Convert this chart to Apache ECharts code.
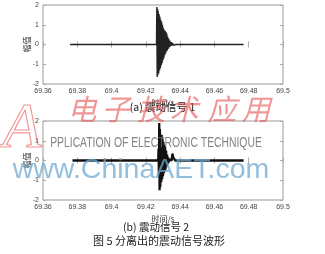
<!DOCTYPE html>
<html><head><meta charset="utf-8">
<script src="https://cdn.jsdelivr.net/npm/echarts@6/dist/echarts.min.js"></script>
<style>html,body{margin:0;padding:0;background:#fff}#c{width:325px;height:254px}</style>
</head><body><div id="c"></div>
<script>
// ---- data ----
const xTickLabels = ['69.36','69.38','69.4','69.42','69.44','69.46','69.48','69.5'];
const yTickLabels = ['-2','-1','0','1','2'];
const timeA = [69.3758,69.4262,69.4264,69.4266,69.4268,69.4270,69.4272,69.4275,69.4277,69.4280,69.4282,69.4285,69.4287,69.4290,69.4292,69.4295,69.4297,69.4300,69.4302,69.4305,69.4307,69.4310,69.4312,69.4315,69.4317,69.4320,69.4322,69.4325,69.4327,69.4330,69.4333,69.4336,69.4340,69.4344,69.4348,69.4352,69.4356,69.4362,69.4368,69.4375,69.4770];
const ampA  = [0,0,1.90,-1.65,1.80,-1.55,1.70,-1.45,1.55,-1.30,1.40,-1.20,1.25,-1.05,1.15,-0.95,1.00,-0.80,0.85,-0.70,0.75,-0.55,0.70,-0.45,0.65,-0.35,0.55,-0.30,0.40,-0.22,0.30,-0.15,0.20,-0.10,0.12,-0.06,0.08,-0.04,0.05,0,0];
const timeB = [69.3772,69.4272,69.4274,69.4276,69.4278,69.4280,69.4282,69.4284,69.4287,69.4290,69.4292,69.4295,69.4297,69.4300,69.4302,69.4305,69.4307,69.4310,69.4312,69.4315,69.4318,69.4321,69.4324,69.4327,69.4330,69.4334,69.4338,69.4342,69.4350,69.4355,69.4360,69.4365,69.4372,69.4770];
const ampB  = [0,0,0.60,-0.80,1.90,-1.50,1.60,-1.35,1.20,-1.10,1.30,-0.95,1.10,-0.80,0.95,-0.65,0.80,-0.55,0.70,-0.45,0.50,-0.30,0.30,-0.18,0.15,-0.08,0.05,0,0,0.35,0.15,0.05,0,0];
const captionA = '(a) 震动信号 1';
const captionB = '(b) 震动信号 2';
const figCaption = '图 5 分离出的震动信号波形';
const xName = '时间/s';
const yName = '幅值';

// ---- chart ----
const xMin = 69.36, xMax = 69.5, xStep = 0.02;
const tickFmt = v => xTickLabels[Math.round((v - xMin) / xStep)] || '';
const lblStyle = {fontSize: 7, color: '#444', fontFamily: 'Liberation Sans'};
function xAx(g, pos, showLbl) {
  return {type:'value', gridIndex:g, position:pos, min:xMin, max:xMax, interval:xStep,
    axisLine:{show:false}, splitLine:{show:false},
    axisTick:{show:true, inside:true, length:3, lineStyle:{color:'#aaa'}},
    axisLabel: showLbl ? Object.assign({show:true, margin:4, formatter:tickFmt}, lblStyle) : {show:false},
    name: showLbl ? xName : '', nameLocation:'middle', nameGap:15, nameMoveOverlap:false,
    nameTextStyle:{fontSize:8, color:'#333', fontFamily:'Noto Sans CJK SC'}};
}
function yAx(g, pos, showLbl) {
  return {type:'value', gridIndex:g, position:pos, min:-2, max:2, interval:1,
    axisLine:{show:false}, splitLine:{show:false},
    axisTick:{show:true, inside:true, length:3, lineStyle:{color:'#aaa'}},
    axisLabel: showLbl ? Object.assign({show:true, margin:4, formatter:v => yTickLabels[v + 2]}, lblStyle) : {show:false},
    name: showLbl ? yName : '', nameLocation:'middle', nameGap:12, nameRotate:90, nameMoveOverlap:false,
    nameTextStyle:{fontSize:8, color:'#333', fontFamily:'Noto Sans CJK SC'}};
}
const zip = (a, b) => a.map((t, i) => [t, b[i]]);
const chart = echarts.init(document.getElementById('c'), null, {renderer:'canvas'});
const wmRed = 'rgba(232,80,80,0.6)';
const redChars = [['电',82],['子',116],['技',151],['术',184],['应',222],['用',256]];
chart.setOption({
  animation:false,
  backgroundColor:'#fff',
  grid:[
    {left:43, top:5, width:240, height:79, show:true, borderColor:'#999', borderWidth:1},
    {left:43, top:121, width:240, height:79, show:true, borderColor:'#999', borderWidth:1}
  ],
  xAxis:[xAx(0,'bottom',true), xAx(1,'bottom',true), xAx(0,'top',false), xAx(1,'top',false)],
  yAxis:[yAx(0,'left',true), yAx(1,'left',true), yAx(0,'right',false), yAx(1,'right',false)],
  series:[
    {type:'line', xAxisIndex:0, yAxisIndex:0, data:zip(timeA, ampA), symbol:'none',
     lineStyle:{color:'#222', width:1.4}},
    {type:'line', xAxisIndex:1, yAxisIndex:1, data:zip(timeB, ampB), symbol:'none',
     lineStyle:{color:'#111', width:2.3}}
  ],
  graphic:[
    {type:'text', left:'center', top:102, style:{text:captionA, fontSize:10.5, fill:'#222', fontFamily:'Noto Sans CJK SC'}},
    {type:'text', x:156, y:227, style:{text:captionB, fontSize:10.5, fill:'#222', fontFamily:'Noto Sans CJK SC', align:'center', verticalAlign:'middle'}},
    {type:'text', x:159, y:241, style:{text:figCaption, fontSize:11, fill:'#222', fontFamily:'Noto Sans CJK SC', align:'center', verticalAlign:'middle'}},
    // watermark
    {type:'text', x:22, y:130, z:100, style:{text:'A', fontSize:64, fontStyle:'italic', fontFamily:'Liberation Serif', fill:'rgba(0,0,0,0)', stroke:wmRed, lineWidth:1.2, align:'center', verticalAlign:'middle'}},
    ...redChars.map(([ch, x]) => ({type:'text', x:x, y:109, z:100,
      style:{text:ch, fontSize:29, fontStyle:'italic', fontFamily:'Noto Sans CJK SC', fill:wmRed, align:'center', verticalAlign:'middle'}})),
    {type:'text', x:156, y:143, z:100, scaleX:0.74,
      style:{text:'PPLICATION OF ELECTRONIC TECHNIQUE', fontSize:14, fontFamily:'Liberation Sans', fill:'rgba(110,110,110,0.85)', align:'center', verticalAlign:'middle'}},
    {type:'text', x:141, y:170, z:100,
      style:{text:'www.ChinaAET.com', fontSize:28.5, fontFamily:'Liberation Sans', fill:'rgba(110,170,210,0.75)', align:'center', verticalAlign:'middle'}}
  ]
});
</script></body></html>
